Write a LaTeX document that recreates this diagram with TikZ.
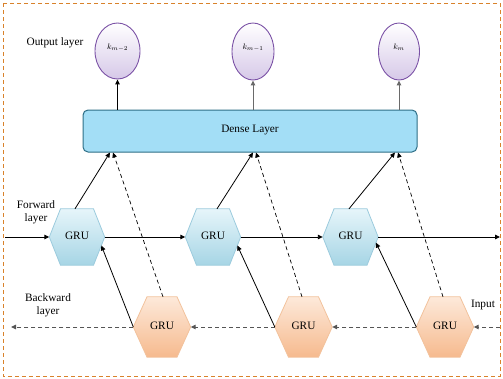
\documentclass[tikz,border=0pt]{standalone}
\usepackage{fontspec}
\setmainfont{Liberation Serif}
\usetikzlibrary{arrows.meta,calc,backgrounds,shapes.geometric}
\definecolor{bordc}{HTML}{D9822B}
\definecolor{densef}{HTML}{A3DEF6}
\definecolor{densed}{HTML}{2D6E86}
\definecolor{fwtop}{HTML}{E6F5FA}
\definecolor{fwbot}{HTML}{A6D5E5}
\definecolor{fwdraw}{HTML}{9CCBDD}
\definecolor{bwtop}{HTML}{FDE9DA}
\definecolor{bwbot}{HTML}{F6BA8E}
\definecolor{bwdraw}{HTML}{F2C29C}
\definecolor{eltop}{HTML}{FFFFFF}
\definecolor{elbot}{HTML}{D6C8E8}
\definecolor{eldraw}{HTML}{7B52A6}
\definecolor{grayarr}{HTML}{6A6A6A}
\definecolor{bwline}{HTML}{555555}
\newcommand\hexdraw[3]{%
  \path[#1] (#2.west) -- ([xshift=-#3]#2.north) -- ([xshift=#3]#2.north) -- (#2.east)
    -- ([xshift=#3]#2.south) -- ([xshift=-#3]#2.south) -- cycle;}
\begin{document}
\begin{tikzpicture}[x=1pt,y=-1pt,font=\fontsize{11.3}{13}\selectfont,
  tipa/.style={-{Triangle[length=5pt,width=4.5pt]}},
  fwbox/.style={minimum width=55pt,minimum height=56pt,inner sep=0pt},
  bwbox/.style={minimum width=57pt,minimum height=60pt,inner sep=0pt},
  fwhex/.style={top color=fwtop,bottom color=fwbot,draw=fwdraw,line width=0.8pt},
  bwhex/.style={top color=bwtop,bottom color=bwbot,draw=bwdraw,line width=0.8pt},
  outnode/.style={ellipse,top color=eltop,bottom color=elbot,draw=eldraw,line width=0.9pt,inner sep=0pt,font=\fontsize{8}{9}\selectfont},
  densebox/.style={rectangle,rounded corners=5pt,fill=densef,draw=densed,line width=1pt,minimum width=334pt,minimum height=42pt},
  fwline/.style={tipa,line width=0.9pt,black},
  bwlinest/.style={tipa,line width=1pt,bwline,dash pattern=on 4pt off 3pt},
  diag/.style={tipa,line width=0.8pt,black},
  diagd/.style={tipa,line width=0.7pt,black,dash pattern=on 4pt off 3pt},
  uparr/.style={tipa,line width=1pt},
  lbl/.style={align=center,inner sep=0pt}]
\useasboundingbox (0,0) rectangle (503,378);
\draw[bordc,line width=1pt,dash pattern=on 4pt off 3pt] (3,3) rectangle (500,376);

% output nodes
\node[outnode,minimum width=45pt,minimum height=56pt] (o1) at (117.5,51) {\raisebox{9pt}{$k_{m-2}$}};
\node[outnode,minimum width=42pt,minimum height=57pt] (o2) at (253,51.5) {\raisebox{9pt}{$k_{m-1}$}};
\node[outnode,minimum width=41pt,minimum height=57pt] (o3) at (399,51.5) {\raisebox{9pt}{$k_{m}$}};
\node[lbl] (outl) at (55,43) {Output layer};

% dense
\node[densebox] (dense) at (250,131) {\raisebox{5pt}{Dense Layer}};

% GRU nodes
\node[fwbox] (f1) at (77,237) {\raisebox{3pt}{GRU}};
\node[fwbox] (f2) at (213,237) {\raisebox{3pt}{GRU}};
\node[fwbox] (f3) at (350.5,237) {\raisebox{3pt}{GRU}};
\node[bwbox] (b1) at (162,327) {\raisebox{3pt}{GRU}};
\node[bwbox] (b2) at (303.5,327) {\raisebox{3pt}{GRU}};
\node[bwbox] (b3) at (445,327) {\raisebox{3pt}{GRU}};
\begin{scope}[on background layer]
  \hexdraw{fwhex}{f1}{16.5pt}
  \hexdraw{fwhex}{f2}{16.5pt}
  \hexdraw{fwhex}{f3}{16.5pt}
  \hexdraw{bwhex}{b1}{15pt}
  \hexdraw{bwhex}{b2}{15pt}
  \hexdraw{bwhex}{b3}{15pt}
\end{scope}

% labels
\node[lbl] (fwl) at (36,212) {Forward\\layer};
\node[lbl] (bwl) at (48,305) {Backward\\layer};
\node[lbl] (inl) at (483,305) {Input};

% free ends
\coordinate (fin) at (5,237);
\coordinate (fout) at (500,237);
\coordinate (bin) at (500,327);
\coordinate (bout) at (11,327);

% dense to outputs
\draw[uparr,black] (dense.north -| o1.south) -- (o1.south);
\draw[uparr,grayarr] (dense.north -| o2.south) -- (o2.south);
\draw[uparr,grayarr] (dense.north -| o3.south) -- (o3.south);

% forward chain
\draw[fwline] (fin) -- (f1.west);
\draw[fwline] (f1.east) -- (f2.west);
\draw[fwline] (f2.east) -- (f3.west);
\draw[fwline] (f3.east) -- (fout);

% backward chain
\draw[bwlinest] (bin) -- (b3.east);
\draw[bwlinest] (b3.west) -- (b2.east);
\draw[bwlinest] (b2.west) -- (b1.east);
\draw[bwlinest] (b1.west) -- (bout);

% forward GRU to dense
\draw[diag] ([xshift=-2pt]f1.north) -- ([xshift=-140pt]dense.south);
\draw[diag] ([xshift=4pt]f2.north) -- ([xshift=3pt]dense.south);
\draw[diag] ([xshift=-1.5pt]f3.north) -- ([xshift=145pt]dense.south);

% backward GRU to dense
\draw[diagd] ([xshift=1pt]b1.north) -- ([xshift=-137pt]dense.south);
\draw[diagd] ([xshift=-1.5pt]b2.north) -- ([xshift=6pt]dense.south);
\draw[diagd] ([xshift=-2pt]b3.north) -- ([xshift=148pt]dense.south);

% backward GRU to forward GRU
\draw[diag] (b1.west) -- ($(f1.east)!0.3!([xshift=16.5pt]f1.south)$);
\draw[diag] (b2.west) -- ($(f2.east)!0.3!([xshift=16.5pt]f2.south)$);
\draw[diag] (b3.west) -- ($(f3.east)!0.2!([xshift=16.5pt]f3.south)$);
\end{tikzpicture}
\end{document}
